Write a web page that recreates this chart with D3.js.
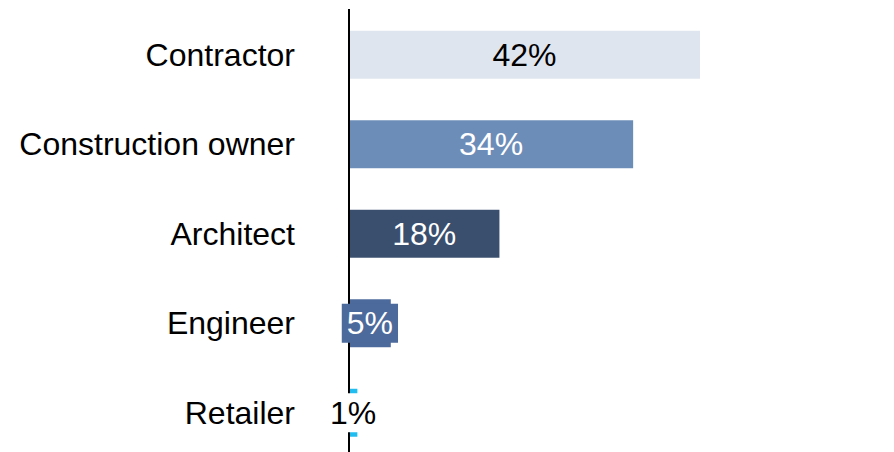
<!DOCTYPE html>
<html>
<head>
<meta charset="utf-8">
<script src="https://cdn.jsdelivr.net/npm/d3@7"></script>
<style>
  html, body { margin: 0; padding: 0; background: #ffffff; }
  svg { display: block; }
  text { font-family: "Liberation Sans", Arial, Helvetica, sans-serif; }
</style>
</head>
<body>
<svg id="chart" width="894" height="452"></svg>
<script>
// Share of respondents by role
const categories = ["Contractor", "Construction owner", "Architect", "Engineer", "Retailer"];
const shares = [42, 34, 18, 5, 1];
const barColors = ["#dfe5ef", "#6d8db9", "#3a4f6e", "#4c6a9b", "#22bdf0"];
const labelColors = ["#000000", "#ffffff", "#ffffff", "#ffffff", "#000000"];

const width = 894, height = 452;
const fontSize = 32;
const svg = d3.select("#chart");

const x = d3.scaleLinear().domain([0, 42]).range([349, 700]);
const y = d3.scaleBand()
  .domain(categories)
  .range([10, 457.5])
  .paddingInner(0.464)
  .paddingOuter(0.232);

const rows = categories.map((c, i) => ({
  cat: c, value: shares[i], fill: barColors[i], ink: labelColors[i]
}));

// bars
svg.append("g").selectAll("rect")
  .data(rows)
  .join("rect")
  .attr("x", x(0))
  .attr("y", d => y(d.cat))
  .attr("width", d => x(d.value) - x(0))
  .attr("height", y.bandwidth())
  .attr("fill", d => d.fill);

// vertical axis line
svg.append("line")
  .attr("x1", 349).attr("x2", 349)
  .attr("y1", 9).attr("y2", height)
  .attr("stroke", "#000").attr("stroke-width", 2);

// category labels
svg.append("g").selectAll("text")
  .data(rows)
  .join("text")
  .attr("x", 295)
  .attr("y", d => y(d.cat) + y.bandwidth() / 2 + 11)
  .attr("text-anchor", "end")
  .attr("font-size", fontSize)
  .attr("fill", "#000")
  .text(d => d.cat);

// value labels, with a backing box when the label overflows its bar
const vg = svg.append("g");
rows.forEach(d => {
  const cx = (x(0) + x(d.value)) / 2;
  const cy = y(d.cat) + y.bandwidth() / 2;
  const t = vg.append("text")
    .attr("x", cx)
    .attr("y", cy + 11)
    .attr("text-anchor", "middle")
    .attr("font-size", fontSize)
    .attr("fill", d.ink)
    .text(d.value + "%");
  const w = t.node().getComputedTextLength();
  const barW = x(d.value) - x(0);
  if (w + 12 > barW) {
    const boxW = w + 10, boxH = 39;
    vg.insert("rect", () => t.node())
      .attr("x", cx - boxW / 2)
      .attr("y", cy - boxH / 2)
      .attr("width", boxW)
      .attr("height", boxH)
      .attr("fill", d.ink === "#ffffff" ? d.fill : "#ffffff");
  }
});
</script>
</body>
</html>
